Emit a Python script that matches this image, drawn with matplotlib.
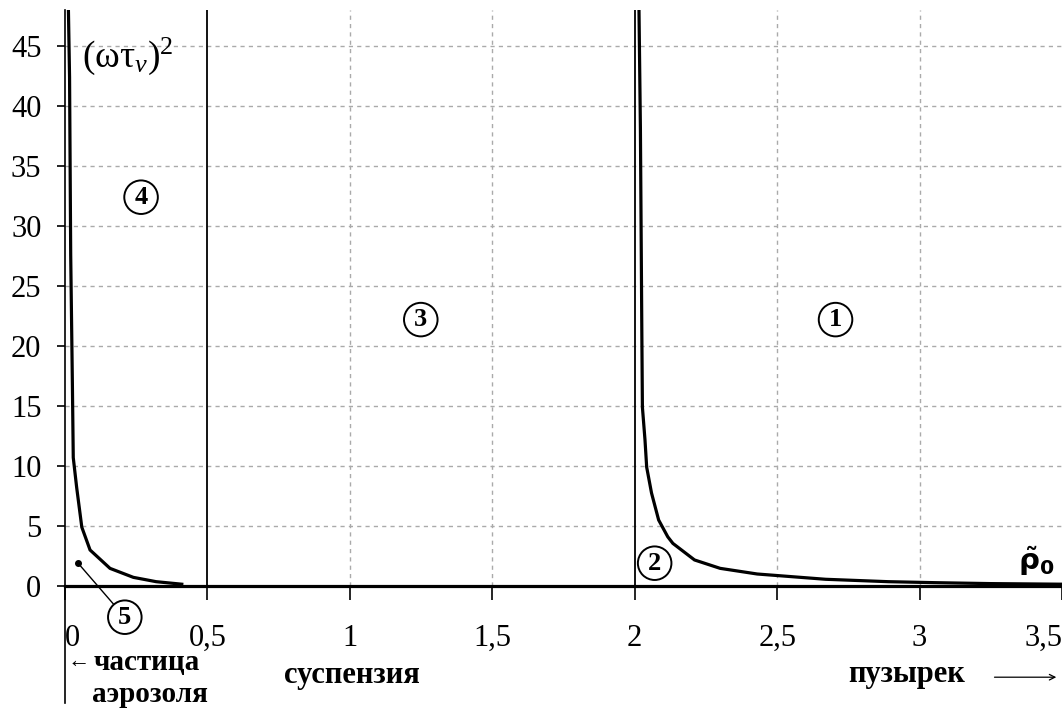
import numpy as np
import matplotlib.pyplot as plt

plt.rcParams['font.family'] = ['Liberation Serif', 'DejaVu Serif']
plt.rcParams['mathtext.fontset'] = 'custom'
plt.rcParams['mathtext.rm'] = 'Liberation Serif'
plt.rcParams['mathtext.it'] = 'Liberation Serif:italic'
plt.rcParams['mathtext.bf'] = 'Liberation Serif:bold'

# curve near rho0 -> 0 (aerosol particle)
x_aer = [0.012, 0.016, 0.020, 0.026, 0.029, 0.041, 0.059, 0.088, 0.158, 0.24, 0.32, 0.41]
y_aer = [48.0, 42.4, 27.6, 16.7, 10.7, 8.2, 4.9, 3.0, 1.47, 0.72, 0.36, 0.15]

# curve for rho0 > 2 (bubble)
x_bub = [2.015, 2.020, 2.025, 2.027, 2.036, 2.042, 2.059, 2.084, 2.116, 2.134,
         2.21, 2.30, 2.43, 2.67, 2.89, 3.05, 3.25, 3.5]
y_bub = [48.0, 38.1, 21.1, 14.9, 12.2, 9.9, 7.75, 5.5, 4.1, 3.55,
         2.17, 1.47, 1.0, 0.56, 0.36, 0.28, 0.2, 0.15]

x_ticks = [0, 0.5, 1, 1.5, 2, 2.5, 3, 3.5]
x_labels = ['0', '0,5', '1', '1,5', '2', '2,5', '3', '3,5']
y_ticks = [0, 5, 10, 15, 20, 25, 30, 35, 40, 45]
boundaries = [0.5, 2.0]

# region labels: (text, x, y)
regions = [('1', 2.705, 22.2), ('2', 2.07, 1.9), ('3', 1.249, 22.2), ('4', 0.267, 32.4)]
point5 = (0.046, 1.9)
label5 = (0.21, -2.6)

fig = plt.figure(figsize=(10.62, 7.16), dpi=100)
ax = fig.add_axes([65 / 1062, 130 / 716, 997 / 1062, 576 / 716])
ax.set_xlim(0, 3.5)
ax.set_ylim(0, 48)

for s in ['top', 'right']:
    ax.spines[s].set_visible(False)
ax.spines['bottom'].set_linewidth(2.3)
ax.spines['left'].set_linewidth(1.2)

ax.set_xticks(x_ticks)
ax.set_xticklabels(x_labels)
ax.set_yticks(y_ticks)
ax.tick_params(axis='x', direction='out', length=10, width=1.2, pad=17, labelsize=22)
ax.tick_params(axis='y', direction='out', length=6, width=1.2, pad=11, labelsize=22)
tl = ax.get_xticklabels()
tl[0].set_ha('left')
tl[-1].set_ha('right')

for yv in y_ticks[1:]:
    ax.axhline(yv, color='#aaaaaa', ls=(0, (3, 3)), lw=1, zorder=0)
for xv in [1, 1.5, 2.5, 3]:
    ax.axvline(xv, color='#aaaaaa', ls=(0, (3, 3)), lw=1, zorder=0)
for xv in boundaries:
    ax.axvline(xv, color='black', lw=1.3)

ax.plot(x_aer, y_aer, color='black', lw=2.3, solid_joinstyle='miter')
ax.plot(x_bub, y_bub, color='black', lw=2.3, solid_joinstyle='miter')

# extension of the y axis below the plot
ax.plot([0, 0], [0, -9.75], color='black', lw=1.2, clip_on=False)

circ = dict(boxstyle='circle,pad=0.2', fc='white', ec='black', lw=1.4)
for t, xv, yv in regions:
    ax.text(xv, yv, t, ha='center', va='center', fontsize=19, fontweight='bold',
            bbox=circ)
ax.plot(*point5, 'o', color='black', ms=4, clip_on=False)
ax.annotate('5', xy=point5, xytext=label5, ha='center', va='center',
            fontsize=19, fontweight='bold', bbox=circ, annotation_clip=False,
            arrowprops=dict(arrowstyle='-', lw=1, color='black', shrinkA=0, shrinkB=0))

ax.text(0.06, 44.1, r'$\mathrm{(\omega\tau}_{\mathit{v}}\mathrm{)}^{2}$',
        fontsize=27, ha='left', va='center')
ax.text(3.41, 2.1, r'$\tilde{\mathbf{\rho}}_{\mathbf{0}}$', fontsize=21, ha='center',
        va='center', family='DejaVu Sans', math_fontfamily='dejavusans')

ax.text(0.008, -6.4, '←', fontsize=16, ha='left', va='center', clip_on=False)
ax.text(0.1, -6.4, 'частица', fontsize=21, fontweight='bold', ha='left',
        va='center', clip_on=False)
ax.text(0.095, -9.0, 'аэрозоля', fontsize=21, fontweight='bold', ha='left',
        va='center', clip_on=False)
ax.text(1.007, -7.5, 'суспензия', fontsize=22, fontweight='bold', ha='center',
        va='center', clip_on=False)
ax.text(2.955, -7.4, 'пузырек', fontsize=22, fontweight='bold', ha='center',
        va='center', clip_on=False)
ax.annotate('', xy=(3.48, -7.6), xytext=(3.263, -7.6), annotation_clip=False,
            arrowprops=dict(arrowstyle='->', lw=0.9, color='black',
                            shrinkA=0, shrinkB=0))

fig.savefig('out.png', dpi=100)
